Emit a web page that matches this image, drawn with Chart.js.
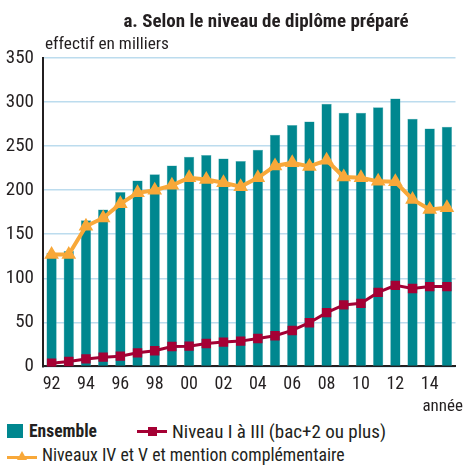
<!DOCTYPE html>
<html><head><meta charset="utf-8">
<script src="https://cdn.jsdelivr.net/npm/chart.js@4"></script>
<style>
html,body{margin:0;padding:0;background:#fff;width:464px;height:465px;overflow:hidden;font-family:"Liberation Sans Narrow","Roboto Condensed","DejaVu Sans Condensed",sans-serif;color:#231f20}
#wrap{position:absolute;left:0;top:0;width:464px;height:402px}
.t{position:absolute;white-space:nowrap;line-height:1}
</style></head><body>
<div id="wrap"><canvas id="c" width="464" height="402"></canvas></div>
<div class="t" style="left:0;width:532px;text-align:center;top:11px;font-weight:bold;font-size:19px">a. Selon le niveau de diplôme préparé</div>
<div class="t" style="left:45px;top:35px;font-size:17.3px">effectif en milliers</div>
<div class="t" style="right:1px;top:397px;font-size:17px">année</div>
<div class="t" style="left:7px;top:424px;width:16px;height:14px;background:#00878f"></div>
<div class="t" style="left:29px;top:423px;font-size:17.5px;font-weight:bold">Ensemble</div>
<div class="t" style="left:137px;top:430px;width:30px;height:3px;background:#a50034"></div>
<div class="t" style="left:148px;top:427px;width:9px;height:9px;background:#a50034"></div>
<div class="t" style="left:172px;top:422px;font-size:19px">Niveau I à III (bac+2 ou plus)</div>
<div class="t" style="left:7px;top:456px;width:30px;height:3px;background:#f8a839"></div>
<div class="t" style="left:17px;top:451px;width:0;height:0;border-left:5px solid transparent;border-right:5px solid transparent;border-bottom:9px solid #f8a839"></div>
<div class="t" style="left:42px;top:446px;font-size:17.8px">Niveaux IV et V et mention complémentaire</div>
<script>
const years = ['92','93','94','95','96','97','98','99','00','01','02','03','04','05','06','07','08','09','10','11','12','13','14','15'];
const ensemble = [129,131,166,178,198,211,218,228,238,240,236,233,246,263,274,278,298,288,288,294,304,281,270,272];
const niveauI_III = [3.6,5.5,8.5,10.5,11.6,15.4,17.7,22.6,23,26,27.6,28.7,31.7,34.8,40.8,49.6,61,69.8,71.6,84,92,88.4,90.6,90.6];
const niveauIV_V = [127,127,159,168.5,184.5,197,200,205.5,214,212,208.5,204,214,227.5,231,227,234,215,214,210,209.5,189.5,178,180];
const yMin = 0, yMax = 350, yStep = 50;
const fam = '"Liberation Sans Narrow","Roboto Condensed","DejaVu Sans Condensed",sans-serif';

new Chart(document.getElementById('c'), {
  type: 'bar',
  data: {
    labels: years,
    datasets: [
      {type:'line', label:'Niveau I à III (bac+2 ou plus)', data: niveauI_III, borderColor:'#a50034', backgroundColor:'#a50034', borderWidth:3, pointStyle:'rect', pointRadius:4.5, tension:0, order:1},
      {type:'line', label:'Niveaux IV et V et mention complémentaire', data: niveauIV_V, borderColor:'#f8a839', backgroundColor:'#f8a839', borderWidth:4, pointStyle:'triangle', pointRadius:4.5, tension:0, order:2},
      {type:'bar', label:'Ensemble', data: ensemble, backgroundColor:'#00878f', borderColor:'#5fb3b8', borderWidth:0.5, barPercentage:0.6, categoryPercentage:1, order:3}
    ]
  },
  options: {
    responsive:false, devicePixelRatio:1, animation:false,
    layout:{padding:{top:58,right:2,left:0,bottom:0}},
    plugins:{legend:{display:false}, tooltip:{enabled:false}},
    scales:{
      x:{offset:true, grid:{display:false, drawTicks:false}, border:{color:'#231f20', width:2},
         ticks:{autoSkip:false, maxRotation:0, color:'#231f20', padding:7, font:{size:18, family:fam},
           callback:(v,i)=> i%2===0 ? years[i] : ''}},
      y:{min:yMin, max:yMax, ticks:{stepSize:yStep, color:'#231f20', padding:9, font:{size:19, family:fam}},
         grid:{color:'#bcdcee', lineWidth:1.5, drawTicks:false}, border:{color:'#231f20', width:2},
         afterFit:s=>{s.width=43;}}
    }
  }
});
</script>
</body></html>
